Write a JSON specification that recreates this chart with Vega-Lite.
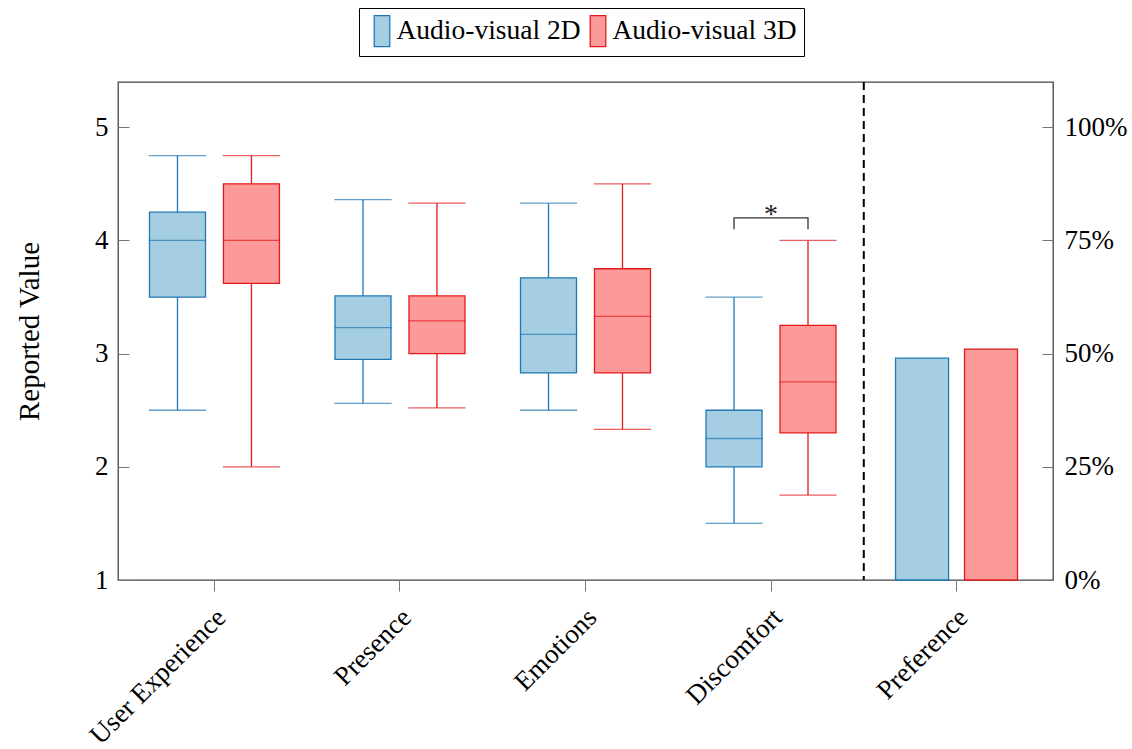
{
  "$schema": "https://vega.github.io/schema/vega-lite/v6.json",
  "width": 935,
  "height": 498,
  "padding": {"left": 15, "top": 7, "right": 5, "bottom": 5},
  "config": {
    "font": "Liberation Serif",
    "view": {"stroke": "#444", "strokeWidth": 1.3},
    "axis": {
      "labelFont": "Liberation Serif",
      "titleFont": "Liberation Serif",
      "labelColor": "black",
      "titleColor": "black",
      "titleFontWeight": "normal",
      "grid": false,
      "domain": false,
      "tickColor": "#777",
      "tickWidth": 1
    },
    "legend": {
      "orient": "none",
      "legendX": 241,
      "legendY": -74,
      "direction": "horizontal",
      "strokeColor": "black",
      "fillColor": "white",
      "padding": 6.5,
      "symbolType": "M-0.5,-1V1H0.5V-1Z",
      "symbolSize": 961,
      "symbolStrokeWidth": 1.3,
      "labelFontSize": 27.5,
      "labelFont": "Liberation Serif",
      "labelColor": "black",
      "labelOffset": -2,
      "columnPadding": 0,
      "labelLimit": 0
    }
  },
  "datasets": {
    "box": [
      {"cat": "User Experience", "group": "Audio-visual 2D", "lower": 2.5, "q1": 3.5, "median": 4.0, "q3": 4.25, "upper": 4.75},
      {"cat": "User Experience", "group": "Audio-visual 3D", "lower": 2.0, "q1": 3.62, "median": 4.0, "q3": 4.5, "upper": 4.75},
      {"cat": "Presence", "group": "Audio-visual 2D", "lower": 2.56, "q1": 2.95, "median": 3.23, "q3": 3.51, "upper": 4.36},
      {"cat": "Presence", "group": "Audio-visual 3D", "lower": 2.52, "q1": 3.0, "median": 3.29, "q3": 3.51, "upper": 4.33},
      {"cat": "Emotions", "group": "Audio-visual 2D", "lower": 2.5, "q1": 2.83, "median": 3.17, "q3": 3.67, "upper": 4.33},
      {"cat": "Emotions", "group": "Audio-visual 3D", "lower": 2.33, "q1": 2.83, "median": 3.33, "q3": 3.75, "upper": 4.5},
      {"cat": "Discomfort", "group": "Audio-visual 2D", "lower": 1.5, "q1": 2.0, "median": 2.25, "q3": 2.5, "upper": 3.5},
      {"cat": "Discomfort", "group": "Audio-visual 3D", "lower": 1.75, "q1": 2.3, "median": 2.75, "q3": 3.25, "upper": 4.0}
    ],
    "pref": [
      {"cat": "Preference", "group": "Audio-visual 2D", "pct": 49},
      {"cat": "Preference", "group": "Audio-visual 3D", "pct": 51}
    ],
    "bracket": [
      {"cat": "Discomfort", "group": "Audio-visual 2D", "y": 4.1, "ord": 1},
      {"cat": "Discomfort", "group": "Audio-visual 2D", "y": 4.2, "ord": 2},
      {"cat": "Discomfort", "group": "Audio-visual 3D", "y": 4.2, "ord": 3},
      {"cat": "Discomfort", "group": "Audio-visual 3D", "y": 4.1, "ord": 4}
    ],
    "star": [{"cat": "Discomfort", "label": "*", "y": 4.15}],
    "divider": [{"cat": "Preference"}]
  },
  "layer": [
    {
      "layer": [
        {
          "data": {"name": "divider"},
          "mark": {"type": "rule", "color": "black", "strokeWidth": 2, "strokeDash": [8, 5]},
          "encoding": {
            "x": {"field": "cat", "type": "nominal", "bandPosition": 0,
                  "scale": {"domain": ["User Experience", "Presence", "Emotions", "Discomfort", "Preference"], "paddingInner": 0, "paddingOuter": 0.02},
                  "axis": {"title": null, "labelAngle": -45, "labelAlign": "right", "labelBaseline": "middle", "labelFontSize": 27, "labelLimit": 0, "tickSize": 11, "labelPadding": 22, "labelOffset": 7, "bandPosition": 0.5}}
          }
        },
        {
          "data": {"name": "box"},
          "mark": {"type": "rule", "strokeWidth": 1.3},
          "encoding": {
            "x": {"field": "cat", "type": "nominal"},
            "xOffset": {"field": "group", "type": "nominal", "scale": {"domain": ["Audio-visual 2D", "Audio-visual 3D"], "paddingInner": 0, "paddingOuter": 0.254}},
            "y": {"field": "lower", "type": "quantitative", "scale": {"domain": [1, 5.4], "nice": false, "zero": false},
                  "axis": {"title": "Reported Value", "orient": "left", "values": [1, 2, 3, 4, 5], "format": "d", "labelFontSize": 27, "titleFontSize": 29, "tickSize": -11, "labelPadding": 21, "titlePadding": 50}},
            "y2": {"field": "upper"},
            "stroke": {"field": "group", "type": "nominal", "scale": {"domain": ["Audio-visual 2D", "Audio-visual 3D"], "range": ["#1f78b4", "#e31a1c"]}, "legend": {"title": null}}
          }
        },
        {
          "data": {"name": "box"},
          "mark": {"type": "bar", "width": 56, "strokeWidth": 1.3},
          "encoding": {
            "x": {"field": "cat", "type": "nominal"},
            "xOffset": {"field": "group", "type": "nominal"},
            "y": {"field": "q1", "type": "quantitative"},
            "y2": {"field": "q3"},
            "fill": {"field": "group", "type": "nominal", "scale": {"domain": ["Audio-visual 2D", "Audio-visual 3D"], "range": ["#a6cee3", "#fb9a99"]}, "legend": {"title": null}},
            "stroke": {"field": "group", "type": "nominal", "legend": {"title": null}}
          }
        },
        {
          "data": {"name": "box"},
          "mark": {"type": "tick", "size": 56, "thickness": 0.01, "filled": false, "strokeWidth": 1.3},
          "encoding": {
            "x": {"field": "cat", "type": "nominal"},
            "xOffset": {"field": "group", "type": "nominal"},
            "y": {"field": "median", "type": "quantitative"},
            "stroke": {"field": "group", "type": "nominal", "legend": {"title": null}}
          }
        },
        {
          "data": {"name": "box"},
          "mark": {"type": "tick", "size": 56, "thickness": 0.01, "filled": false, "strokeWidth": 1.3},
          "encoding": {
            "x": {"field": "cat", "type": "nominal"},
            "xOffset": {"field": "group", "type": "nominal"},
            "y": {"field": "lower", "type": "quantitative"},
            "stroke": {"field": "group", "type": "nominal", "legend": {"title": null}}
          }
        },
        {
          "data": {"name": "box"},
          "mark": {"type": "tick", "size": 56, "thickness": 0.01, "filled": false, "strokeWidth": 1.3},
          "encoding": {
            "x": {"field": "cat", "type": "nominal"},
            "xOffset": {"field": "group", "type": "nominal"},
            "y": {"field": "upper", "type": "quantitative"},
            "stroke": {"field": "group", "type": "nominal", "legend": {"title": null}}
          }
        },
        {
          "data": {"name": "bracket"},
          "mark": {"type": "line", "color": "#333", "strokeWidth": 1.3},
          "encoding": {
            "x": {"field": "cat", "type": "nominal"},
            "xOffset": {"field": "group", "type": "nominal"},
            "y": {"field": "y", "type": "quantitative"},
            "order": {"field": "ord", "type": "quantitative"}
          }
        },
        {
          "data": {"name": "star"},
          "mark": {"type": "text", "fontSize": 28, "baseline": "alphabetic", "color": "#222", "font": "Liberation Serif"},
          "encoding": {
            "x": {"field": "cat", "type": "nominal"},
            "y": {"field": "y", "type": "quantitative"},
            "text": {"field": "label"}
          }
        }
      ]
    },
    {
      "data": {"name": "pref"},
      "mark": {"type": "bar", "width": 53, "strokeWidth": 1.3},
      "encoding": {
        "x": {"field": "cat", "type": "nominal"},
        "xOffset": {"field": "group", "type": "nominal", "scale": {"domain": ["Audio-visual 2D", "Audio-visual 3D"], "paddingInner": 0, "paddingOuter": 0.345}},
        "y": {"field": "pct", "type": "quantitative", "scale": {"domain": [0, 110], "nice": false},
              "axis": {"title": null, "orient": "right", "values": [0, 25, 50, 75, 100], "labelExpr": "datum.value + '%'", "labelFontSize": 27, "tickSize": -11, "labelPadding": 22}},
        "fill": {"field": "group", "type": "nominal", "legend": {"title": null}},
        "stroke": {"field": "group", "type": "nominal", "legend": {"title": null}}
      }
    }
  ],
  "resolve": {"scale": {"y": "independent", "xOffset": "independent"}}
}
